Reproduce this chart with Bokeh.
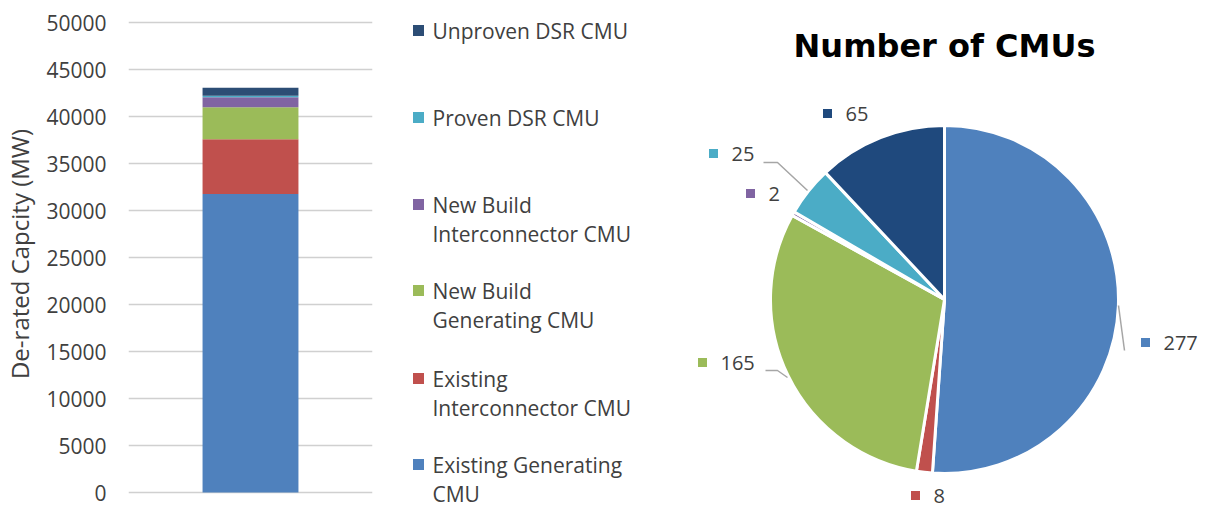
import numpy as np
from bokeh.plotting import figure
from bokeh.layouts import row
from bokeh.models import Range1d, FactorRange, FixedTicker, ColumnDataSource
from bokeh.core.properties import value
from bokeh.embed import file_html
from bokeh.resources import INLINE

# ---------------- data ----------------
categories = ["Existing Generating CMU", "Existing Interconnector CMU",
              "New Build Generating CMU", "New Build Interconnector CMU",
              "Proven DSR CMU", "Unproven DSR CMU"]
legend_labels = ["Existing Generating\nCMU", "Existing\nInterconnector CMU",
                 "New Build\nGenerating CMU", "New Build\nInterconnector CMU",
                 "Proven DSR CMU", "Unproven DSR CMU"]
capacity_mw = [31750, 5830, 3400, 1060, 170, 850]
cmu_counts = [277, 8, 165, 2, 25, 65]
y_ticks = [0, 5000, 10000, 15000, 20000, 25000, 30000, 35000, 40000, 45000, 50000]

# ---------------- styles ----------------
bar_colors = ["#4F81BD", "#C0504D", "#9BBB59", "#8064A2", "#4BACC6", "#2C4D75"]
pie_colors = ["#4F81BD", "#C0504D", "#9BBB59", "#8064A2", "#4BACC6", "#1F497D"]
FONT = "Open Sans"
TXT = "#404040"
PAGE_H = 507

def py(page_y):
    return PAGE_H - page_y

# ---------------- bar chart ----------------
# value axis 0..50000 drawn between page y 492 (0) and 22 (50000); frame spans the full height
y_top_px, y_bot_px = 22, 492
per_px = (y_ticks[-1] - y_ticks[0]) / (y_bot_px - y_top_px)
y_start = y_ticks[0] - (PAGE_H - y_bot_px) * per_px
y_end = y_ticks[-1] + y_top_px * per_px

p1 = figure(width=390, height=PAGE_H, output_backend="svg", toolbar_location=None,
            x_range=FactorRange("Total", range_padding=0),
            y_range=Range1d(y_start, y_end),
            min_border_left=128, min_border_right=18,
            min_border_top=0, min_border_bottom=0)
bottoms = np.concatenate([[0], np.cumsum(capacity_mw)[:-1]])
tops = np.cumsum(capacity_mw)
src = ColumnDataSource(dict(x=["Total"] * len(categories), bottom=bottoms, top=tops,
                            color=bar_colors, cat=categories))
p1.vbar(x="x", bottom="bottom", top="top", width=0.393, color="color",
        line_color=None, source=src)
p1.xaxis.visible = False
p1.xgrid.visible = False
p1.ygrid.ticker = FixedTicker(ticks=y_ticks)
p1.ygrid.grid_line_color = "#D0D0D0"
p1.ygrid.grid_line_width = 1.5
p1.yaxis.ticker = FixedTicker(ticks=y_ticks)
p1.yaxis.axis_line_color = None
p1.yaxis.major_tick_line_color = None
p1.yaxis.minor_tick_line_color = None
p1.yaxis.major_tick_out = 0
p1.yaxis.major_tick_in = 0
p1.yaxis.minor_tick_out = 0
p1.yaxis.minor_tick_in = 0
p1.yaxis.major_label_standoff = 22
p1.yaxis.major_label_text_font = FONT
p1.yaxis.major_label_text_font_size = "21px"
p1.yaxis.major_label_text_color = "#404040"
p1.yaxis.axis_label = "De-rated Capcity (MW)"
p1.yaxis.axis_label_text_font = FONT
p1.yaxis.axis_label_text_font_size = "24px"
p1.yaxis.axis_label_text_font_style = "normal"
p1.yaxis.axis_label_text_color = "#404040"
p1.yaxis.axis_label_standoff = 7
p1.outline_line_color = None

# ---------------- legend + pie ----------------
p2 = figure(width=812, height=PAGE_H, output_backend="svg", toolbar_location=None,
            x_range=Range1d(390, 1202), y_range=Range1d(0, PAGE_H),
            min_border=0)
p2.axis.visible = False
p2.grid.visible = False
p2.outline_line_color = None

# legend (layout positions: square centre x, text left x, entry centre y)
leg_sq_x = 418
leg_txt_x = 432
leg_centers = [464, 378, 290, 204, 117, 30]
line_gap = 29
p2.rect(x=[leg_sq_x] * 6, y=[py(c) for c in leg_centers], width=11, height=11,
        color=bar_colors, line_color=None)
lx, ly, lt = [], [], []
for lab, c in zip(legend_labels, leg_centers):
    for j, line in enumerate(lab.split("\n")):
        lx.append(leg_txt_x)
        ly.append(py(c + j * line_gap))
        lt.append(line)
p2.text(x=lx, y=ly, text=lt, text_font=value(FONT), text_font_size="21px",
        text_color=TXT, text_baseline="middle", text_align="left")

# pie
cx, cy, r = 944, 299, 174
total = sum(cmu_counts)
cum = np.concatenate([[0], np.cumsum(cmu_counts)])
start = np.pi / 2 - 2 * np.pi * cum[:-1] / total
end = np.pi / 2 - 2 * np.pi * cum[1:] / total
p2.wedge(x=cx, y=py(cy), radius=r, start_angle=start, end_angle=end,
         direction="clock", fill_color=pie_colors, line_color="white", line_width=3)

# title
p2.text(x=[cx], y=[py(45)], text=["Number of CMUs"], text_font=value("DejaVu Sans"),
        text_font_style="bold", text_font_size="32px", text_color="#000000",
        text_align="center", text_baseline="middle")

# leader lines
p2.multi_line(xs=[[1118, 1124], [763, 777, 807], [765, 777, 787]],
              ys=[[py(305), py(350)], [py(162), py(162), py(190)],
                  [py(370), py(370), py(377)]],
              line_color="#A6A6A6", line_width=1.5)

# pie data labels (layout positions, in category order)
lab_sq = [(1145, 342), (915, 495), (702, 362), (750, 193), (713, 153), (827, 113)]
p2.rect(x=[s[0] for s in lab_sq], y=[py(s[1]) for s in lab_sq], width=9, height=9,
        color=pie_colors, line_color=None)
p2.text(x=[s[0] + 18 for s in lab_sq], y=[py(s[1]) for s in lab_sq],
        text=[str(v) for v in cmu_counts], text_font=value(FONT), text_font_size="20px",
        text_color=TXT, text_baseline="middle", text_align="left")

layout = row(p1, p2)
open("out.html", "w").write(file_html(layout, INLINE))
